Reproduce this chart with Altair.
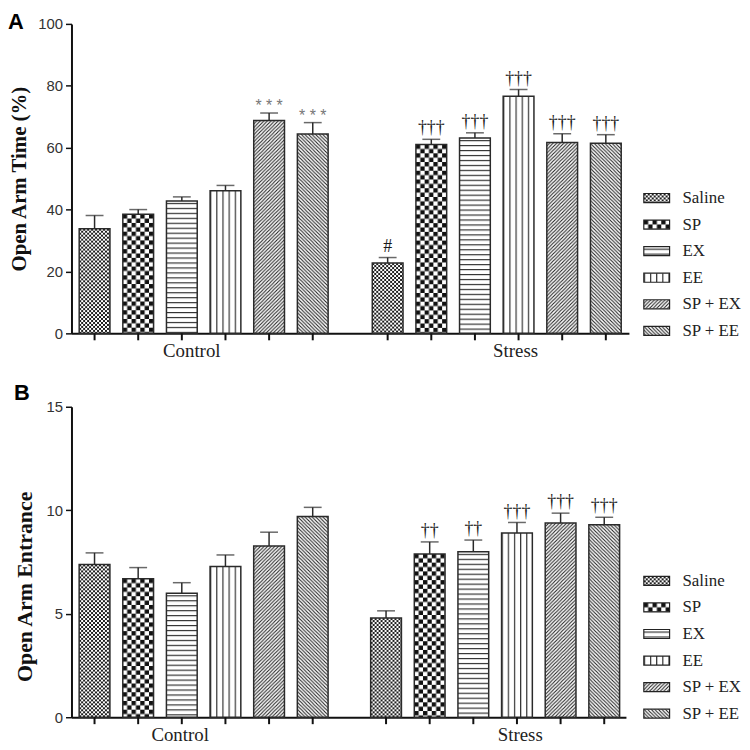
import base64
import altair as alt
import pandas as pd

SANS = "Liberation Sans"
SERIF = "Liberation Serif"

groups = ["Control", "Stress"]
treatments = ["Saline", "SP", "EX", "EE", "SP + EX", "SP + EE"]

# Panel A: Open Arm Time (%)
time_control = [33.8, 38.5, 42.8, 46.1, 68.8, 64.4]
time_control_sem = [4.3, 1.5, 1.3, 1.7, 2.4, 3.7]
time_stress = [22.7, 61.0, 63.1, 76.6, 61.7, 61.4]
time_stress_sem = [1.8, 1.7, 1.7, 2.2, 2.8, 2.8]
time_control_sig = ["", "", "", "", "***", "***"]
time_stress_sig = ["#", "†††", "†††", "†††", "†††", "†††"]
time_ticks = [0, 20, 40, 60, 80, 100]

# Panel B: Open Arm Entrance
entr_control = [7.38, 6.69, 5.99, 7.28, 8.27, 9.70]
entr_control_sem = [0.56, 0.54, 0.51, 0.56, 0.67, 0.44]
entr_stress = [4.79, 7.89, 7.99, 8.90, 9.38, 9.30]
entr_stress_sem = [0.35, 0.58, 0.57, 0.51, 0.48, 0.36]
entr_control_sig = ["", "", "", "", "", ""]
entr_stress_sig = ["", "††", "††", "†††", "†††", "†††"]
entr_ticks = [0, 5, 10, 15]


def pattern_uri(w, h, body):
    svg = ('<svg xmlns="http://www.w3.org/2000/svg" width="100%" height="100%">'
           f'<defs><pattern id="p" patternUnits="userSpaceOnUse" x="0" y="0" width="{w}" height="{h}">'
           f'<rect width="{w}" height="{h}" fill="#ffffff"/>{body}</pattern></defs>'
           '<rect x="0" y="0" width="100%" height="100%" fill="url(#p)"/></svg>')
    return "data:image/svg+xml;base64," + base64.b64encode(svg.encode("utf-8")).decode("ascii")


patterns = {
    "Saline": pattern_uri(4, 4, '<rect width="2" height="2" fill="#1e1e1e"/>'
                                '<rect x="2" y="2" width="2" height="2" fill="#1e1e1e"/>'),
    "SP": pattern_uri(8.8, 8.8, '<rect width="4.4" height="4.4" fill="#111"/>'
                                '<rect x="4.4" y="4.4" width="4.4" height="4.4" fill="#111"/>'),
    "EX": pattern_uri(10, 5, '<rect y="2" width="10" height="1.2" fill="#333"/>'),
    "EE": pattern_uri(6.2, 10, '<rect x="0" width="1.2" height="10" fill="#333"/>'),
    "SP + EX": pattern_uri(3.6, 3.6, '<path d="M-1,1 L1,-1 M0,3.6 L3.6,0 M2.6,4.6 L4.6,2.6" '
                                     'stroke="#222" stroke-width="1.1"/>'),
    "SP + EE": pattern_uri(3.6, 3.6, '<path d="M-1,2.6 L1,4.6 M0,0 L3.6,3.6 M2.6,-1 L4.6,1" '
                                     'stroke="#222" stroke-width="1.1"/>'),
}


def make_df(ctrl, ctrl_sem, strs, strs_sem, ctrl_sig, strs_sig):
    rows = []
    for g, vals, sems, sigs in [("Control", ctrl, ctrl_sem, ctrl_sig),
                                ("Stress", strs, strs_sem, strs_sig)]:
        for t, v, s, a in zip(treatments, vals, sems, sigs):
            rows.append({"Group": g, "Treatment": t, "Value": v, "Upper": v + s,
                         "Sig": a, "Pattern": patterns[t]})
    return pd.DataFrame(rows)


def panel(df, ytitle, ymax, ticks, letter, width, height, off_ctrl, off_str,
          letter_x, letter_y, title_size, title_pad, title_y):
    xaxis = alt.Axis(labelFont=SERIF, labelFontSize=19, labelColor="#222", labelAngle=0,
                     ticks=False, tickSize=0, labelPadding=8, domainColor="#111", domainWidth=2,
                     labelOffset={"condition": {"test": "datum.value == 'Control'", "value": off_ctrl},
                                  "value": off_str})
    xenc = alt.X("Group:N", sort=groups, title=None,
                 scale=alt.Scale(paddingInner=0.1506, paddingOuter=0.0263), axis=xaxis)
    xoff = alt.XOffset("Treatment:N", sort=treatments,
                       scale=alt.Scale(paddingInner=0.295, paddingOuter=0))
    yaxis = alt.Axis(values=ticks, grid=False, tickSize=6, tickWidth=1.5, tickColor="#111",
                     domainColor="#111", domainWidth=2, labelFont=SANS, labelFontSize=15,
                     labelColor="#333", labelPadding=3, titleFont=SERIF, titleFontSize=title_size,
                     titleFontWeight="bold", titleColor="#111", titlePadding=title_pad,
                     titleY=title_y)
    yscale = alt.Scale(domain=[0, ymax], nice=False, zero=True)

    def Y(field):
        return alt.Y(field, title=ytitle, scale=yscale, axis=yaxis)

    base = alt.Chart(df)
    fills = base.mark_image(aspect=False).encode(
        x=xenc, xOffset=xoff, y=Y("Value:Q"), y2=alt.datum(0), url="Pattern:N")
    outline = base.mark_bar(fillOpacity=0, stroke="#2a2a2a", strokeWidth=1.5).encode(
        x=xenc, xOffset=xoff, y=Y("Value:Q"), y2=alt.datum(0))
    err = base.mark_rule(color="#2a2a2a", strokeWidth=1.5).encode(
        x=xenc, xOffset=xoff, y=Y("Value:Q"), y2=alt.Y2("Upper:Q", title=ytitle))
    cap = base.mark_tick(color="#2a2a2a", thickness=1.5, size=18, orient="horizontal").encode(
        x=xenc, xOffset=xoff, y=Y("Upper:Q"))
    sig_serif = base.transform_filter("datum.Sig != '' && datum.Sig != '***'").mark_text(
        font=SERIF, fontSize=18, color="#1a1a1a", baseline="alphabetic", dy=-6).encode(
        x=xenc, xOffset=xoff, y=Y("Upper:Q"), text="Sig:N")
    sig_star = base.transform_filter("datum.Sig == '***'").transform_calculate(
        Lbl="join(split(datum.Sig, ''), ' ')").mark_text(
        font=SANS, fontSize=16, color="#777", baseline="alphabetic", dy=-2).encode(
        x=xenc, xOffset=xoff, y=Y("Upper:Q"), text="Lbl:N")
    xticks = base.mark_rule(color="#111", strokeWidth=2).encode(
        x=xenc, xOffset=xoff, y=alt.value(height), y2=alt.value(height + 7))
    lab = alt.Chart(pd.DataFrame({"L": [letter]})).mark_text(
        font=SANS, fontSize=22, fontWeight="bold", align="left", baseline="middle",
        color="#000").encode(text="L:N", x=alt.value(letter_x), y=alt.value(letter_y))

    main = alt.layer(fills, outline, err, cap, sig_serif, sig_star, xticks, lab)

    ldf = pd.DataFrame({"Treatment": treatments, "Pattern": [patterns[t] for t in treatments]})
    ly = alt.Y("Treatment:N", sort=treatments, axis=None,
               scale=alt.Scale(range=[171, 314], paddingInner=0.66, paddingOuter=0))
    sw = alt.Chart(ldf).mark_image(aspect=False).encode(
        x=alt.value(577), x2=alt.value(603), y=ly, url="Pattern:N")
    sw_out = alt.Chart(ldf).mark_rect(fillOpacity=0, stroke="#222", strokeWidth=1.2).encode(
        x=alt.value(577), x2=alt.value(603), y=ly)
    ltxt = alt.Chart(ldf).mark_text(align="left", baseline="middle", font=SERIF, fontSize=17,
                                    color="#222").encode(x=alt.value(616), y=ly, text="Treatment:N")
    legend = alt.layer(sw, sw_out, ltxt)

    return alt.layer(main, legend).resolve_scale(y="independent").properties(
        width=width, height=height)


dfA = make_df(time_control, time_control_sem, time_stress, time_stress_sem,
              time_control_sig, time_stress_sig)
dfB = make_df(entr_control, entr_control_sem, entr_stress, entr_stress_sem,
              entr_control_sig, entr_stress_sig)

pA = panel(dfA, "Open Arm Time (%)", 100, time_ticks, "A", 562, 312, -12, 19,
           -64, -2, 21, 8, 156)
pB = panel(dfB, "Open Arm Entrance", 15, entr_ticks, "B", 559, 313, -23, 26,
           -58, -14, 22, 10, 181)

chart = alt.vconcat(pA, pB, spacing=22).properties(
    padding={"left": 0, "top": 0, "right": 0, "bottom": 0}
).configure(background="white").configure_view(stroke=None)

chart.save("out.html", embed_options={"renderer": "svg", "actions": False})
